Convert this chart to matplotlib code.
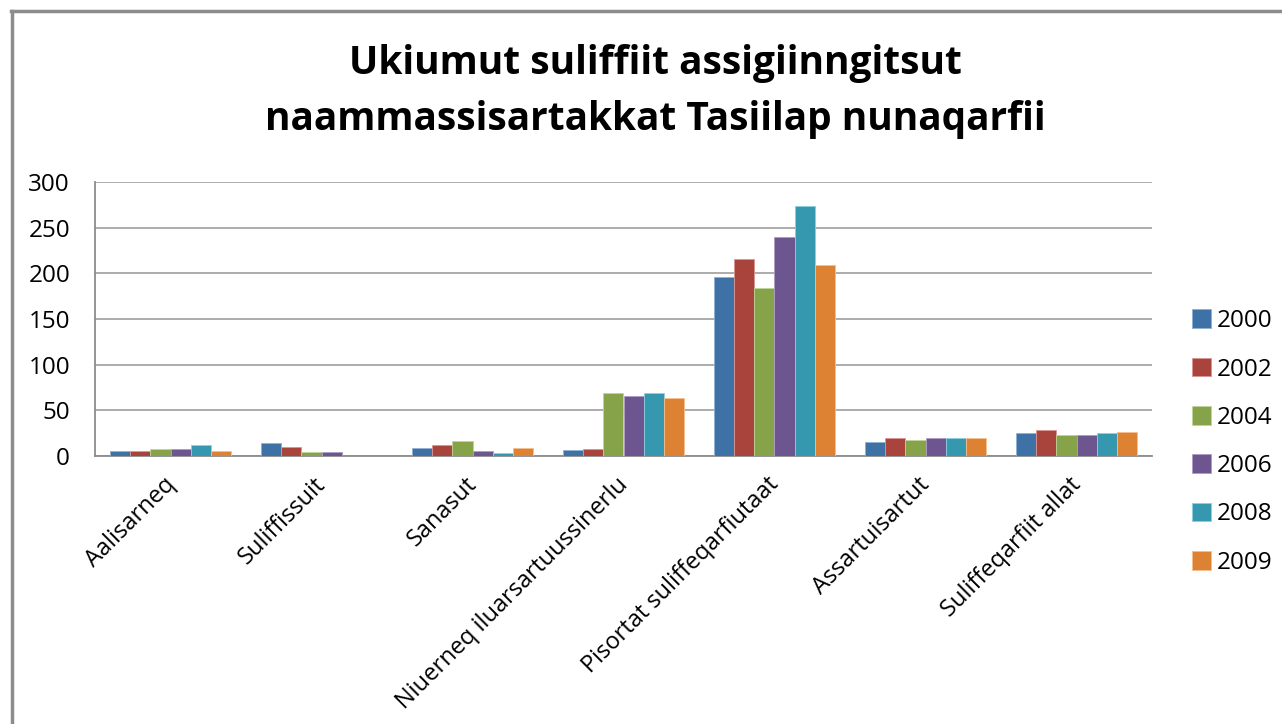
import matplotlib
matplotlib.use("Agg")
import matplotlib.pyplot as plt
import numpy as np
from matplotlib.lines import Line2D
from matplotlib.patches import Patch

categories = ["Aalisarneq", "Suliffissuit", "Sanasut", "Niuerneq iluarsartuussinerlu",
              "Pisortat suliffeqarfiutaat", "Assartuisartut", "Suliffeqarfiit allat"]
years = ["2000", "2002", "2004", "2006", "2008", "2009"]
v2000 = [6, 14, 9, 6.5, 196, 15.5, 25]
v2002 = [6, 10, 12, 7.5, 216, 20, 28]
v2004 = [7.5, 4.5, 16, 68.5, 184, 17, 23.5]
v2006 = [7.5, 4.5, 6, 66, 240, 20, 22.5]
v2008 = [12, 0, 3, 68.5, 274, 20, 25]
v2009 = [6, 0, 9, 63, 209, 20, 26.5]
series = [v2000, v2002, v2004, v2006, v2008, v2009]
colors = ["#3E72A6", "#A9443D", "#86A34A", "#6D5590", "#3698AF", "#DD8233"]
edge_colors = ["#8FB0D4", "#D99590", "#BFD49A", "#AD9DC6", "#8ECFDF", "#F5BE8F"]

plt.rcParams['font.family'] = ['Open Sans', 'DejaVu Sans']

fig = plt.figure(figsize=(12.82, 7.24), dpi=100)
ax = fig.add_axes([95/1282, 1-456/724, (1152-95)/1282, (456-182)/724])

n = len(years)
bw = 1.0 / (n + 1.5)
x = np.arange(len(categories))
for i, (vals, c, ec) in enumerate(zip(series, colors, edge_colors)):
    ax.bar(x + (i - (n-1)/2) * bw, vals, width=bw, color=c, edgecolor=ec,
           linewidth=0.6, zorder=3, label=years[i])

ax.set_xlim(-0.5, len(categories) - 0.5)
ax.set_ylim(0, 300)
ax.set_yticks(range(0, 301, 50))
ax.yaxis.grid(True, color="#A6A6A6", linewidth=1.3, zorder=0)
ax.set_axisbelow(True)
for s in ["top", "right"]:
    ax.spines[s].set_visible(False)
ax.spines["left"].set_color("#8C8C8C")
ax.spines["bottom"].set_color("#8C8C8C")
ax.spines["left"].set_linewidth(1.3)
ax.spines["bottom"].set_linewidth(1.3)
ax.tick_params(axis="y", length=0, pad=18, labelsize=17.5)
ax.tick_params(axis="x", length=0, pad=12, labelsize=17)
ax.set_xticks(x - 0.05)
ax.set_xticklabels(categories, rotation=45, ha="right", rotation_mode="anchor")

handles = [Patch(facecolor=c, edgecolor=ec, linewidth=0.6) for c, ec in zip(colors, edge_colors)]
fig.legend(handles, years, loc="center left", bbox_to_anchor=(1182/1282, 1-442/724),
           frameon=False, fontsize=17.5, handlelength=0.8, handleheight=0.8,
           handletextpad=0.25, labelspacing=1.0, borderaxespad=0)

fig.text(655/1282, 1-91.5/724, "Ukiumut suliffiit assigiinngitsut\nnaammassisartakkat Tasiilap nunaqarfii",
         ha="center", va="center", fontsize=28, fontweight="bold", linespacing=1.58)

fig.add_artist(Line2D([12/1282, 12/1282], [0, 1-11/724], color="#8C8C8C", lw=2.5,
                      transform=fig.transFigure))
fig.add_artist(Line2D([11/1282, 1], [1-11/724, 1-11/724], color="#8C8C8C", lw=2.5,
                      transform=fig.transFigure))

fig.savefig("out.png", dpi=100, facecolor="white")
